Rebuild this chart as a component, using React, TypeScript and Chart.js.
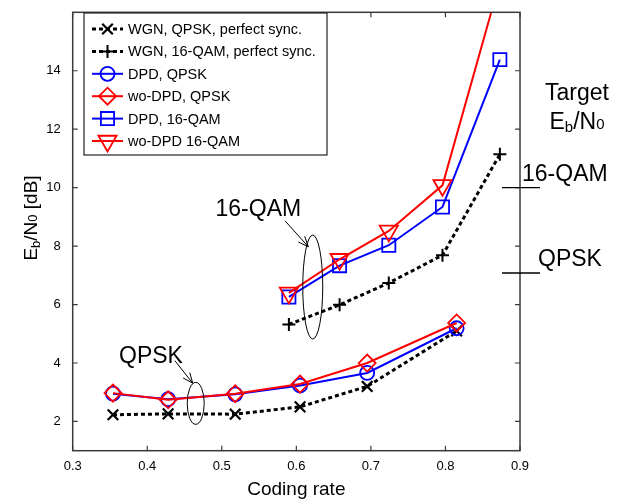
import { useEffect, useRef } from "react";
import { Chart, registerables } from "chart.js";
import { drawPoint } from "chart.js/helpers";

Chart.register(...registerables);

// ---------- data ----------
const QPSK_RATES = [0.354, 0.428, 0.518, 0.605, 0.695, 0.815];
const QAM16_RATES = [0.59, 0.658, 0.724, 0.796, 0.873];

const WGN_QPSK = [2.23, 2.26, 2.25, 2.5, 3.2, 5.1];
const WGN_16QAM = [5.32, 5.99, 6.74, 7.69, 11.14];
const DPD_QPSK = [2.95, 2.76, 2.93, 3.23, 3.66, 5.19];
const WODPD_QPSK = [2.97, 2.74, 2.95, 3.28, 4.0, 5.37];
const DPD_16QAM = [6.26, 7.33, 8.03, 9.34, 14.38];
const WODPD_16QAM = [6.4, 7.55, 8.52, 10.08, 17.05];

const SERIES_LABELS = [
  "WGN, QPSK, perfect sync.",
  "WGN, 16-QAM, perfect sync.",
  "DPD, QPSK",
  "wo-DPD, QPSK",
  "DPD, 16-QAM",
  "wo-DPD 16-QAM",
];

const X_TICKS = [0.3, 0.4, 0.5, 0.6, 0.7, 0.8, 0.9];
const Y_TICKS = [2, 4, 6, 8, 10, 12, 14];

const TARGET_16QAM = 10;
const TARGET_QPSK = 7.08;

const FONT = '"Liberation Sans", Arial, sans-serif';

const pts = (xs: number[], ys: number[]) => xs.map((x, i) => ({ x, y: ys[i] }));

type Seg = { t: string; size: number; dy?: number };

function drawRich(ctx: CanvasRenderingContext2D, segs: Seg[], cx: number, cy: number, rot: number) {
  ctx.save();
  ctx.translate(cx, cy);
  ctx.rotate(rot);
  ctx.textBaseline = "alphabetic";
  ctx.textAlign = "left";
  let total = 0;
  const widths = segs.map((s) => {
    ctx.font = `${s.size}px ${FONT}`;
    const w = ctx.measureText(s.t).width;
    total += w;
    return w;
  });
  const base = segs[0].size * 0.36;
  let x = -total / 2;
  segs.forEach((s, i) => {
    ctx.font = `${s.size}px ${FONT}`;
    ctx.fillText(s.t, x, base + (s.dy || 0));
    x += widths[i];
  });
  ctx.restore();
}

function drawArrow(ctx: CanvasRenderingContext2D, x1: number, y1: number, x2: number, y2: number) {
  ctx.beginPath();
  ctx.moveTo(x1, y1);
  ctx.lineTo(x2, y2);
  const a = Math.atan2(y2 - y1, x2 - x1);
  const L = 11;
  ctx.moveTo(x2, y2);
  ctx.lineTo(x2 - L * Math.cos(a - 0.4), y2 - L * Math.sin(a - 0.4));
  ctx.moveTo(x2, y2);
  ctx.lineTo(x2 - L * Math.cos(a + 0.4), y2 - L * Math.sin(a + 0.4));
  ctx.stroke();
}

const overlay = {
  id: "overlay",
  afterDraw(chart: any) {
    const ctx: CanvasRenderingContext2D = chart.ctx;
    const { left, right, top, bottom } = chart.chartArea;
    const xs = chart.scales.x;
    const ys = chart.scales.y;
    ctx.save();

    // frame
    ctx.strokeStyle = "#3a3a3a";
    ctx.lineWidth = 1.5;
    ctx.setLineDash([]);
    ctx.strokeRect(left, top, right - left, bottom - top);
    // inward ticks
    ctx.lineWidth = 1.2;
    ctx.beginPath();
    X_TICKS.forEach((v) => {
      const px = xs.getPixelForValue(v);
      ctx.moveTo(px, bottom);
      ctx.lineTo(px, bottom - 5);
      ctx.moveTo(px, top);
      ctx.lineTo(px, top + 5);
    });
    Y_TICKS.forEach((v) => {
      const py = ys.getPixelForValue(v);
      ctx.moveTo(left, py);
      ctx.lineTo(left + 5, py);
      ctx.moveTo(right, py);
      ctx.lineTo(right - 5, py);
    });
    ctx.stroke();

    // y title
    ctx.fillStyle = "#000";
    drawRich(
      ctx,
      [
        { t: "E", size: 19 },
        { t: "b", size: 13, dy: 3 },
        { t: "/N", size: 19 },
        { t: "0", size: 13, dy: 0 },
        { t: " [dB]", size: 19 },
      ],
      30,
      218,
      -Math.PI / 2
    );

    // annotations: ellipses + arrows + labels
    ctx.strokeStyle = "#000";
    ctx.lineWidth = 1;
    const ell = (cx: number, cy: number, rx: number, ry: number) => {
      ctx.beginPath();
      ctx.ellipse(xs.getPixelForValue(cx), ys.getPixelForValue(cy), rx, ry, 0, 0, Math.PI * 2);
      ctx.stroke();
    };
    ell(0.622, 6.6, 10, 52);
    ell(0.465, 2.62, 8.5, 21);
    drawArrow(ctx, xs.getPixelForValue(0.585), ys.getPixelForValue(8.86), xs.getPixelForValue(0.616), ys.getPixelForValue(7.98));
    drawArrow(ctx, xs.getPixelForValue(0.437), ys.getPixelForValue(4.08), xs.getPixelForValue(0.461), ys.getPixelForValue(3.31));

    ctx.font = `23px ${FONT}`;
    ctx.textAlign = "center";
    ctx.textBaseline = "middle";
    ctx.fillText("16-QAM", xs.getPixelForValue(0.549), ys.getPixelForValue(9.26));
    ctx.fillText("QPSK", xs.getPixelForValue(0.405), ys.getPixelForValue(4.21));

    // right side target marks
    ctx.fillText("Target", right + 57, ys.getPixelForValue(13.23));
    drawRich(
      ctx,
      [
        { t: "E", size: 23 },
        { t: "b", size: 15, dy: 3 },
        { t: "/N", size: 23 },
        { t: "0", size: 15 },
      ],
      right + 57,
      ys.getPixelForValue(12.3),
      0
    );
    ctx.font = `23px ${FONT}`;
    ctx.textAlign = "left";
    ctx.textBaseline = "middle";
    ctx.fillText("16-QAM", right + 2, ys.getPixelForValue(10.44));
    ctx.fillText("QPSK", right + 18, ys.getPixelForValue(7.53));
    ctx.lineWidth = 1.3;
    ctx.beginPath();
    const y16 = ys.getPixelForValue(TARGET_16QAM);
    const yq = ys.getPixelForValue(TARGET_QPSK);
    ctx.moveTo(right - 18, y16);
    ctx.lineTo(right + 20, y16);
    ctx.moveTo(right - 18, yq);
    ctx.lineTo(right + 20, yq);
    ctx.stroke();

    // legend
    const lx = 84, ly = 13, lw = 243, lh = 142;
    ctx.fillStyle = "#fff";
    ctx.fillRect(lx, ly, lw, lh);
    ctx.strokeStyle = "#222";
    ctx.lineWidth = 1.2;
    ctx.strokeRect(lx, ly, lw, lh);
    const order = [0, 1, 2, 3, 4, 5];
    order.forEach((di, i) => {
      const ds = chart.data.datasets[di];
      const ry = 29 + i * 22.4;
      ctx.strokeStyle = ds.borderColor;
      ctx.lineWidth = ds.borderWidth;
      ctx.setLineDash(ds.borderDash || []);
      ctx.beginPath();
      ctx.moveTo(92, ry);
      ctx.lineTo(123, ry);
      ctx.stroke();
      ctx.setLineDash([]);
      ctx.fillStyle = "rgba(0,0,0,0)";
      ctx.strokeStyle = ds.pointBorderColor;
      ctx.lineWidth = ds.pointBorderWidth;
      drawPoint(ctx, { pointStyle: ds.pointStyle, rotation: ds.pointRotation || 0, radius: ds.pointRadius, borderWidth: ds.pointBorderWidth }, 107.5, ry);
      ctx.fillStyle = "#000";
      ctx.font = `14.5px ${FONT}`;
      ctx.textAlign = "left";
      ctx.textBaseline = "middle";
      ctx.fillText(SERIES_LABELS[di], 128, ry + 1);
    });

    ctx.restore();
  },
};

export default function App() {
  const ref = useRef<HTMLCanvasElement | null>(null);
  useEffect(() => {
    if (!ref.current) return;
    const common = { showLine: true, pointBackgroundColor: "rgba(0,0,0,0)", backgroundColor: "rgba(0,0,0,0)", fill: false, tension: 0 };
    const chart = new Chart(ref.current, {
      type: "scatter",
      data: {
        datasets: [
          {
            ...common,
            label: SERIES_LABELS[0],
            data: pts(QPSK_RATES, WGN_QPSK),
            borderColor: "#000",
            borderWidth: 3,
            borderDash: [4, 3],
            pointStyle: "crossRot",
            pointRadius: 7.5,
            pointBorderColor: "#000",
            pointBorderWidth: 2.2,
            order: 3,
          },
          {
            ...common,
            label: SERIES_LABELS[1],
            data: pts(QAM16_RATES, WGN_16QAM),
            borderColor: "#000",
            borderWidth: 3,
            borderDash: [4, 3],
            pointStyle: "cross",
            pointRadius: 6.5,
            pointBorderColor: "#000",
            pointBorderWidth: 2,
            order: 3,
          },
          {
            ...common,
            label: SERIES_LABELS[2],
            data: pts(QPSK_RATES, DPD_QPSK),
            borderColor: "#0000ff",
            borderWidth: 2,
            pointStyle: "circle",
            pointRadius: 7,
            pointBorderColor: "#0000ff",
            pointBorderWidth: 1.8,
            order: 2,
          },
          {
            ...common,
            label: SERIES_LABELS[3],
            data: pts(QPSK_RATES, WODPD_QPSK),
            borderColor: "#ff0000",
            borderWidth: 2,
            pointStyle: "rectRot",
            pointRadius: 8.5,
            pointBorderColor: "#ff0000",
            pointBorderWidth: 1.8,
            order: 1,
          },
          {
            ...common,
            label: SERIES_LABELS[4],
            data: pts(QAM16_RATES, DPD_16QAM),
            borderColor: "#0000ff",
            borderWidth: 2,
            pointStyle: "rect",
            pointRadius: 9.3,
            pointBorderColor: "#0000ff",
            pointBorderWidth: 1.8,
            order: 2,
          },
          {
            ...common,
            label: SERIES_LABELS[5],
            data: pts(QAM16_RATES, WODPD_16QAM),
            borderColor: "#ff0000",
            borderWidth: 2,
            pointStyle: "triangle",
            pointRotation: 180,
            pointRadius: 10.5,
            pointBorderColor: "#ff0000",
            pointBorderWidth: 1.8,
            order: 1,
          },
        ] as any,
      },
      options: {
        responsive: false,
        animation: false,
        events: [],
        layout: { padding: { left: 0, top: 4.6, right: 107, bottom: 0 } },
        plugins: { legend: { display: false }, tooltip: { enabled: false } },
        scales: {
          x: {
            type: "linear",
            min: 0.3,
            max: 0.9,
            afterBuildTicks: (s: any) => {
              s.ticks = X_TICKS.map((v) => ({ value: v }));
            },
            afterFit: (s: any) => {
              s.height = 51.3;
              s.paddingLeft = 0;
              s.paddingRight = 0;
            },
            ticks: {
              callback: (v: any) => Number(v).toFixed(1),
              font: { family: FONT, size: 13 },
              color: "#000",
              padding: 8,
              maxRotation: 0,
              autoSkip: false,
            },
            grid: { display: false, drawTicks: false },
            border: { display: false },
            title: {
              display: true,
              text: "Coding rate",
              font: { family: FONT, size: 19 },
              color: "#000",
              padding: { top: 0, bottom: 0.6 },
            },
          },
          y: {
            type: "linear",
            min: 1,
            max: 16,
            afterBuildTicks: (s: any) => {
              s.ticks = Y_TICKS.map((v) => ({ value: v }));
            },
            afterFit: (s: any) => {
              s.width = 72.7;
              s.paddingTop = 0;
              s.paddingBottom = 0;
            },
            ticks: {
              font: { family: FONT, size: 13 },
              color: "#000",
              padding: 12,
              autoSkip: false,
            },
            grid: { display: false, drawTicks: false },
            border: { display: false },
          },
        },
      },
      plugins: [overlay],
    });
    return () => chart.destroy();
  }, []);
  return (
    <div style={{ position: "fixed", left: 0, top: 0, width: 627, height: 502, background: "#fff" }}>
      <canvas ref={ref} width={627} height={502} style={{ display: "block" }} />
    </div>
  );
}
